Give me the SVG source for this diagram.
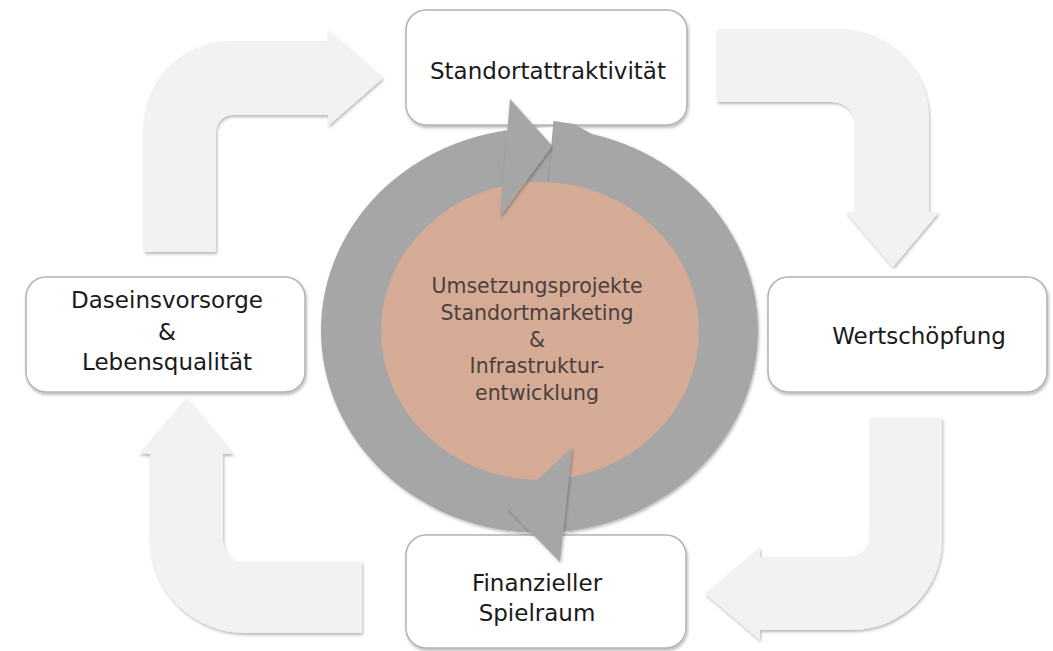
<svg xmlns="http://www.w3.org/2000/svg" width="1053" height="651" viewBox="0 0 1053 651">
<defs>
<filter id="sh" x="-10%" y="-10%" width="120%" height="120%">
<feDropShadow dx="1" dy="2" stdDeviation="1.5" flood-color="#000" flood-opacity="0.28"/>
</filter>
<filter id="sh2" x="-10%" y="-10%" width="120%" height="120%">
<feDropShadow dx="1" dy="1.5" stdDeviation="1.5" flood-color="#000" flood-opacity="0.3"/>
</filter>
<style>
.bend{fill:#f2f2f2;filter:url(#sh)}
.box{fill:#fff;stroke:#b3b3b3;stroke-width:1.5;filter:url(#sh)}
.lbl{font-family:"DejaVu Sans","Liberation Sans",sans-serif;font-size:23px;fill:#1a1a1a;text-anchor:middle}
.ctr{font-family:"DejaVu Sans","Liberation Sans",sans-serif;font-size:20.5px;fill:#4a403c;text-anchor:middle}
.ring{fill:#a6a6a6}
</style>
</defs>
<rect width="1053" height="651" fill="#fff"/>
<g id="connectors">
<path class="bend" d="M144,252 V127 A86,86 0 0 1 230,41 H328 V30 L383,78 L328,126 V115 H233 A17,17 0 0 0 216,132 V252 Z"/>
<path class="bend" d="M717,29 H839 A90,90 0 0 1 929,119 V212 H939 L893,267 L846,212 H855 V124 A22,22 0 0 0 833,102 H717 Z"/>
<path class="bend" d="M870,418 H942 V540 A90,90 0 0 1 852,630 H760 V640 L705,593.5 L760,547 V557 H848 A22,22 0 0 0 870,535 V418 Z"/>
<path class="bend" d="M362,633 H245 A95,95 0 0 1 150,538 V454 H139 L186,398 L233,454 H223 V541 A21,21 0 0 0 244,562 H362 Z"/>
</g>
<g id="node-standortattraktivitaet">
<rect class="box" x="406" y="10" width="281" height="115" rx="20"/>
<text class="lbl" x="548" y="79">Standortattraktivität</text>
</g>
<g id="node-wertschoepfung">
<rect class="box" x="768" y="277" width="279" height="115" rx="20"/>
<text class="lbl" x="919" y="344">Wertschöpfung</text>
</g>
<g id="node-finanzieller-spielraum">
<rect class="box" x="406" y="535" width="280" height="113" rx="20"/>
<text class="lbl" x="537" y="591">Finanzieller</text>
<text class="lbl" x="537" y="621">Spielraum</text>
</g>
<g id="node-daseinsvorsorge">
<rect class="box" x="26" y="277" width="279" height="115" rx="20"/>
<text class="lbl" x="167" y="308">Daseinsvorsorge</text>
<text class="lbl" x="167" y="340">&amp;</text>
<text class="lbl" x="167" y="370">Lebensqualität</text>
</g>
<g id="node-umsetzungsprojekte">
<ellipse class="ring" cx="539.5" cy="330.5" rx="218.5" ry="202.5" filter="url(#sh2)"/>
<ellipse cx="540" cy="331" rx="159" ry="149" fill="#d5ab96"/>
<path d="M536,128 L552,146 L553.5,127 Z" fill="#fff"/>
<path class="ring" d="M554,121 L574,124 L592,134 L580,176 L548,182 Z"/>
<path d="M554,121 L548,182" stroke="#8f8f8f" stroke-width="1" opacity="0.6" fill="none"/>
<path class="ring" d="M510,99 L552,146 L500,217 Z" filter="url(#sh2)"/>
<path class="ring" d="M572,448 L507,508 L560,562 Z" filter="url(#sh2)"/>
<text class="ctr" x="537" y="293">Umsetzungsprojekte</text>
<text class="ctr" x="537" y="320">Standortmarketing</text>
<text class="ctr" x="537" y="347">&amp;</text>
<text class="ctr" x="537" y="373">Infrastruktur-</text>
<text class="ctr" x="537" y="400">entwicklung</text>
</g>
</svg>
